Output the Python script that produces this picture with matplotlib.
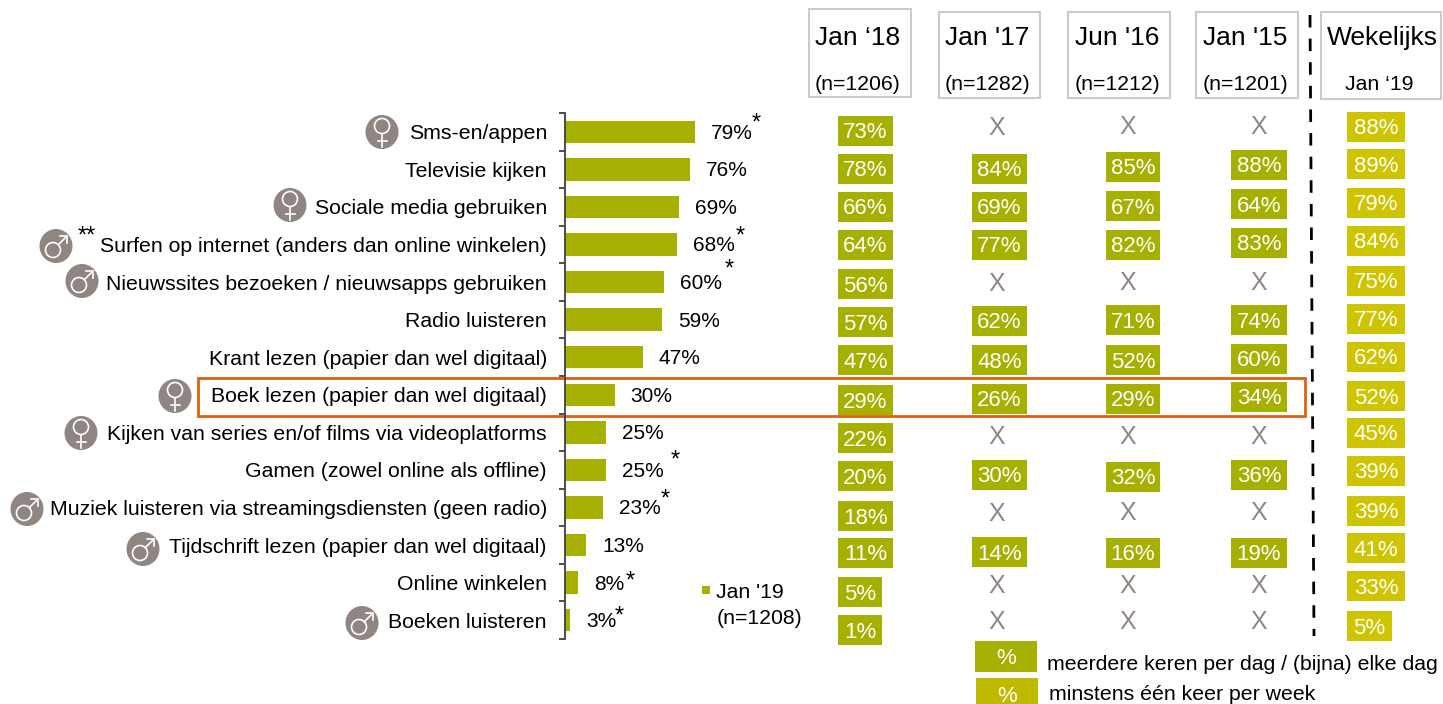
import matplotlib
matplotlib.use("Agg")
import matplotlib.pyplot as plt
from matplotlib.patches import Rectangle, Ellipse, Circle

plt.rcParams['font.family'] = ['Liberation Sans', 'DejaVu Sans']

categories = ["Sms-en/appen", "Televisie kijken", "Sociale media gebruiken",
              "Surfen op internet (anders dan online winkelen)",
              "Nieuwssites bezoeken / nieuwsapps gebruiken", "Radio luisteren",
              "Krant lezen (papier dan wel digitaal)", "Boek lezen (papier dan wel digitaal)",
              "Kijken van series en/of films via videoplatforms",
              "Gamen (zowel online als offline)",
              "Muziek luisteren via streamingsdiensten (geen radio)",
              "Tijdschrift lezen (papier dan wel digitaal)", "Online winkelen", "Boeken luisteren"]
jan19 = [79, 76, 69, 68, 60, 59, 47, 30, 25, 25, 23, 13, 8, 3]
jan18 = [73, 78, 66, 64, 56, 57, 47, 29, 22, 20, 18, 11, 5, 1]
jan17 = [None, 84, 69, 77, None, 62, 48, 26, None, 30, None, 14, None, None]
jun16 = [None, 85, 67, 82, None, 71, 52, 29, None, 32, None, 16, None, None]
jan15 = [None, 88, 64, 83, None, 74, 60, 34, None, 36, None, 19, None, None]
weekly = [88, 89, 79, 84, 75, 77, 62, 52, 45, 39, 39, 41, 33, 5]

# hand placed in the original, so every column has its own y
y18 = [131, 169, 207, 245, 284, 322, 360, 400, 438, 476, 516, 553, 592, 630]
y17 = [127, 169, 207, 245, 283, 321, 360, 399, 436, 475, 513, 552, 585, 621]
y16 = [126, 167, 206, 245, 282, 320, 360, 399, 436, 477, 512, 553, 585, 621]
y15 = [126, 165, 204, 243, 282, 320, 359, 397, 436, 475, 512, 553, 585, 621]
yw = [127, 164, 203, 241, 281, 319, 357, 396, 433, 471, 511, 548, 586, 626]

headers = [("Jan \u201818", "(n=1206)", 809, 911, 9, 97, -2), ("Jan '17", "(n=1282)", 939, 1040, 12, 98, -2),
           ("Jun '16", "(n=1212)", 1068, 1170, 12, 98, -2), ("Jan '15", "(n=1201)", 1196, 1298, 12, 98, -2),
           ("Wekelijks", "Jan \u201819", 1321, 1441, 12, 99, 1)]
icons = [(382, 132, "f"), (290, 205, "f"), (56, 246, "m"), (82, 281, "m"), (175, 396, "f"),
         (81, 433, "f"), (27, 509, "m"), (143, 549, "m"), (362, 623, "m")]
stars = [(756, 124, "*"), (740, 237, "*"), (729, 270, "*"), (675, 461, "*"), (665, 500, "*"),
         (630, 582, "*"), (619, 617, "*"), (87, 237, "**")]

GREEN = "#a5b000"
YELLOW = "#cfc400"
GREY = "#8f8682"
FS = 15.3

W, H = 1443, 704
fig = plt.figure(figsize=(W / 100, H / 100), dpi=100)

# overlay in pixel coordinates for the slide furniture
bg = fig.add_axes([0, 0, 1, 1])
bg.set_xlim(0, W)
bg.set_ylim(H, 0)
bg.set_axis_off()

# bar chart, same pixel band as the reference
left, right, top, bottom = 565, 825, 113, 639
ax = fig.add_axes([left / W, 1 - bottom / H, (right - left) / W, (bottom - top) / H])
ax.patch.set_alpha(0)
ypos = list(range(len(categories)))
ax.barh(ypos, jan19, height=0.6, color=GREEN, edgecolor="none")
ax.set_xlim(0, (right - left) / 1.65)
ax.set_ylim(len(categories) - 0.5, -0.5)
ax.set_yticks(ypos)
ax.set_yticklabels(categories, fontsize=FS, color="black")
ax.tick_params(axis="y", which="major", length=0, pad=13)
ax.set_yticks([i - 0.5 for i in range(len(categories) + 1)], minor=True)
ax.tick_params(axis="y", which="minor", length=4, width=1.3, color="#404040")
ax.xaxis.set_visible(False)
for s in ["top", "right", "bottom"]:
    ax.spines[s].set_visible(False)
ax.spines["left"].set_color("#404040")
ax.spines["left"].set_linewidth(1.3)
for i, v in enumerate(jan19):
    ax.annotate(f"{v}%", (v, i), xytext=(11.5, -1), textcoords="offset points",
                va="center", ha="left", fontsize=15)


def tile(x0, x1, yc, txt, color, h=30):
    bg.add_patch(Rectangle((x0, yc - h / 2), x1 - x0, h, facecolor=color, edgecolor="none"))
    bg.text((x0 + x1) / 2, yc + 2, txt, color="white", fontsize=16, ha="center", va="center")


columns = [(jan18, y18, 838, 893, 866), (jan17, y17, 972, 1027, 997),
           (jun16, y16, 1106, 1160, 1128), (jan15, y15, 1231, 1287, 1259)]
for vals, ys, x0, x1, xmid in columns:
    for v, y in zip(vals, ys):
        if v is None:
            bg.text(xmid, y + 1, "X", color=GREY, fontsize=18, ha="center", va="center")
        else:
            tile(x0, 882 if v < 10 else x1, y, f"{v}%", GREEN)
for v, y in zip(weekly, yw):
    tile(1347, 1392 if v < 10 else 1405, y, f"{v}%", YELLOW)

for big, small, x0, x1, y0, y1, dx in headers:
    bg.add_patch(Rectangle((x0, y0), x1 - x0, y1 - y0, facecolor="white", edgecolor="#cfcaca", lw=1.5))
    bg.text((x0 + x1) / 2 + dx, 38, big, fontsize=19, ha="center", va="center")
    bg.text((x0 + x1) / 2 - (2 if big == "Wekelijks" else 0) + (0 if big == "Wekelijks" else dx), 84.5, small,
            fontsize=FS, ha="center", va="center")

bg.plot([1310, 1314], [15, 636], color="black", lw=2, ls=(0, (4.5, 4)))
bg.add_patch(Rectangle((198, 378), 1107, 38, facecolor="none", edgecolor="#e0600f", lw=2, zorder=5))

# thin gender signs, the font glyphs are too heavy at this size
for x, y, kind in icons:
    bg.add_patch(Ellipse((x, y), 33, 34, facecolor=GREY, edgecolor="none"))
    if kind == "f":
        bg.add_patch(Circle((x, y - 6), 7.5, facecolor="none", edgecolor="white", lw=1.2))
        bg.plot([x, x], [y + 1.5, y + 15], color="white", lw=1.2)
        bg.plot([x - 4.5, x + 4.5], [y + 9, y + 9], color="white", lw=1.2)
    else:
        bg.add_patch(Circle((x - 3, y + 4), 7.5, facecolor="none", edgecolor="white", lw=1.2))
        bg.plot([x + 2.3, x + 11], [y - 1.3, y - 10], color="white", lw=1.2)
        bg.plot([x + 4, x + 11, x + 11], [y - 10, y - 10, y - 3], color="white", lw=1.2)
for x, y, s in stars:
    bg.text(x, y, s, fontsize=17, ha="center", va="center")

# legends
bg.add_patch(Rectangle((702, 586), 8, 8, facecolor=GREEN, edgecolor="none"))
bg.text(716, 593, "Jan '19", fontsize=FS, va="center")
bg.text(717, 618, "(n=1208)", fontsize=FS, va="center")
bg.add_patch(Rectangle((975, 641), 62, 31, facecolor=GREEN, edgecolor="none"))
bg.text(1006, 659, "%", color="white", fontsize=16, ha="center", va="center")
bg.text(1047, 664, "meerdere keren per dag / (bijna) elke dag", fontsize=FS, va="center")
bg.add_patch(Rectangle((976, 678), 62, 30, facecolor="#bfb900", edgecolor="none"))
bg.text(1007, 696, "%", color="white", fontsize=16, ha="center", va="center")
bg.text(1049, 695, "minstens één keer per week", fontsize=FS, va="center")

fig.savefig("out.png", dpi=100)
